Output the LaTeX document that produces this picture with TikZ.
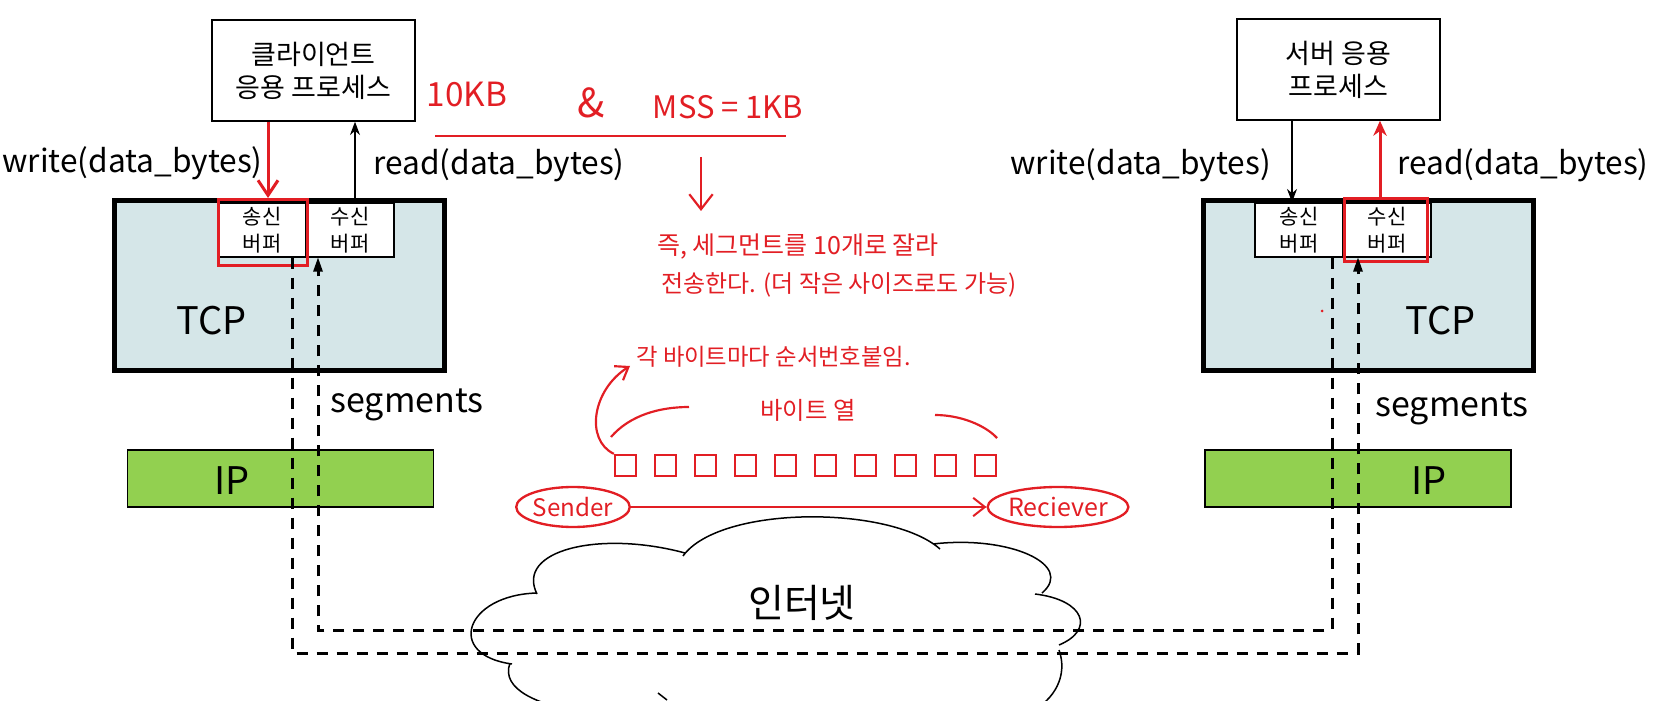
\documentclass[tikz,border=0pt]{standalone}
\usepackage{fontspec}
\setmainfont{Noto Sans CJK KR}
\usetikzlibrary{arrows.meta,shapes.geometric}
\definecolor{hred}{RGB}{226,30,36}
\definecolor{tcpfill}{RGB}{213,230,232}
\definecolor{ipfill}{RGB}{146,208,80}
\newcommand{\fsz}[2]{\fontsize{#1pt}{#2pt}\selectfont}
\begin{document}
\begin{tikzpicture}[x=0.6pt,y=-0.6pt,
  appbox/.style={draw, line width=0.9pt, align=center, inner sep=0pt,
    minimum width=121.8pt, minimum height=60.6pt, font=\fsz{16.2}{19.8}},
  tcpbox/.style={draw, line width=3pt, fill=tcpfill, minimum width=198pt, minimum height=102pt},
  ipbox/.style={draw, line width=0.9pt, fill=ipfill, minimum width=183.6pt, minimum height=34.2pt},
  buf/.style={draw, fill=white, line width=0.9pt, minimum width=52.8pt, minimum height=32.4pt,
    align=center, inner sep=0pt, font=\fsz{12.6}{16.2}},
  redbox/.style={draw=hred, line width=1.8pt},
  lbl/.style={font=\fsz{19}{22}, inner sep=0pt},
  seglbl/.style={font=\fsz{20.4}{24}, inner sep=0pt},
  big/.style={font=\fsz{22.8}{24}, inner sep=0pt},
  hand/.style={text=hred, inner sep=0pt},
  dashline/.style={line width=1.8pt, dash pattern=on 7pt off 5pt},
  blkarrow/.style={line width=0.8pt, -{Stealth[length=8pt,width=6pt]}},
  redarrow/.style={draw=hred, line width=1.8pt},
  sq/.style={draw=hred, line width=1.4pt, minimum size=12.6pt, inner sep=0pt},
  ell/.style={draw=hred, line width=1.4pt, ellipse, inner sep=0pt, text=hred}
]
\useasboundingbox (0,0) rectangle (1656,701);
\clip (0,0) rectangle (1656,701);

% ---------- cloud ----------
\draw[line width=0.9pt]
  (537,593) .. controls (465,595) and (445,655) .. (512,664)
  (537,594) .. controls (515,550) and (600,530) .. (685,553)
  (683,556) .. controls (720,505) and (890,505) .. (940,549)
  (933,544) .. controls (1010,535) and (1075,565) .. (1042,593)
  (1035,594) .. controls (1085,600) and (1095,630) .. (1059,645)
  (1059,650) .. controls (1068,675) and (1055,700) .. (1030,712)
  (510,663) .. controls (500,690) and (540,705) .. (580,712);
\draw[line width=0.9pt] (658,693) -- (667,700);
\node[font=\fsz{23.4}{24}, inner sep=0pt] (inet) at (802,603) {인터넷};

% ---------- app boxes ----------
\node[appbox] (client) at (313.5,70.5) {클라이언트\\응용 프로세스};
\node[appbox] (server) at (1338.5,69.5) {서버 응용\\프로세스};

% ---------- TCP boxes ----------
\node[tcpbox] (tcpL) at (279,286) {};
\node[tcpbox] (tcpR) at (1368,286) {};
\node[big] (tcpLt) at (212,321) {TCP};
\node[big] (tcpRt) at (1441,321) {TCP};

% buffers
\node[buf] (sbufL) at (262,230) {송신\\버퍼};
\node[buf] (rbufL) at (350,230) {수신\\버퍼};
\node[buf] (sbufR) at (1299,230) {송신\\버퍼};
\node[buf] (rbufR) at (1387,230) {수신\\버퍼};

% red highlight boxes
\node[redbox, minimum width=53.4pt, minimum height=39.6pt] (hlL) at (263,232.5) {};
\node[redbox, minimum width=49.8pt, minimum height=37.8pt] (hlR) at (1386,230.5) {};

% ---------- IP boxes ----------
\node[ipbox] (ipL) at (280.5,478.5) {};
\node[ipbox] (ipR) at (1358,478.5) {};
\node[big] (ipLt) at (232,481) {IP};
\node[big] (ipRt) at (1429,481) {IP};

% ---------- labels ----------
\node[lbl, anchor=west] (wL) at (2,163) {write(data\_bytes)};
\node[lbl, anchor=west] (rL) at (373,165) {read(data\_bytes)};
\node[lbl, anchor=east] (wR) at (1271,165) {write(data\_bytes)};
\node[lbl, anchor=west] (rR) at (1397,165) {read(data\_bytes)};
\node[seglbl] (segL) at (407,405) {segments};
\node[seglbl] (segR) at (1452,409) {segments};

% ---------- app <-> buffer arrows ----------
\coordinate (wxL) at (268,0);
\coordinate (rxL) at (355,0);
\coordinate (wxR) at (1292,0);
\coordinate (rxR) at (1380,0);
\draw[redarrow, -{Straight Barb[length=9pt,width=12pt]}] (client.south -| wxL) -- (hlL.north -| wxL);
\draw[blkarrow] (rbufL.north -| rxL) -- (client.south -| rxL);
\draw[blkarrow] (server.south -| wxR) -- (sbufR.north -| wxR);
\draw[redarrow, -{Stealth[length=9pt,width=8pt]}] (hlR.north -| rxR) -- (server.south -| rxR);

% ---------- dashed segment paths ----------
\coordinate (aL) at (292,653);
\coordinate (aR) at (1358,653);
\coordinate (bR) at (1332,630);
\coordinate (bL) at (318,630);
\draw[dashline] (sbufL.south -| aL) -- (aL) -- (aR) -- ([yshift=-3pt]rbufR.south -| aR);
\draw[dashline] (sbufR.south -| bR) -- (bR) -- (bL) -- ([yshift=-3pt]rbufL.south -| bL);
\fill (rbufR.south -| aR) -- ++(-5,14) -- ++(10,0) -- cycle;
\fill (rbufL.south -| bL) -- ++(-5,14) -- ++(10,0) -- cycle;

% ---------- red handwritten notes ----------
\node[hand, font=\fsz{20}{22}] (kb10) at (467,95) {10KB};
\node[hand, font=\fsz{24}{26}] (amp) at (591,103) {\&};
\node[hand, font=\fsz{18.6}{22}] (mss) at (728,107) {MSS = 1KB};
\coordinate (ruleL) at (435,136);
\coordinate (ruleR) at (786,136);
\draw[draw=hred, line width=1.5pt] (ruleL) -- (ruleR);
\coordinate (dnA) at (701,157);
\coordinate (dnB) at (701,211);
\draw[redarrow, line width=1.3pt, -{Straight Barb[length=9pt,width=14pt]}] (dnA) -- (dnB);
\node[hand, font=\fsz{15}{18}, anchor=west] (n1) at (657,247) {즉, 세그먼트를 10개로 잘라};
\node[hand, font=\fsz{14.4}{18}, anchor=west] (n2) at (661,285) {전송한다. (더 작은 사이즈로도 가능)};

\node[hand, font=\fsz{14}{16}, anchor=west] (n3) at (636,357) {각 바이트마다 순서번호붙임.};
\node[hand, font=\fsz{14.6}{16}] (n4) at (808,410) {바이트 열};

\foreach \i in {0,...,9} {
  \node[sq] (sq\i) at (625.5+40*\i,465.5) {};
}
\coordinate (annEnd) at (630,366);
\draw[redarrow, line width=1.3pt, -{Straight Barb[length=7pt,width=10pt]}]
  (sq0.north west) .. controls (585,440) and (592,390) .. (annEnd);
\draw[draw=hred, line width=1.3pt] (611,437) .. controls (630,415) and (660,407) .. (689,407);
\draw[draw=hred, line width=1.3pt] (935,415) .. controls (960,415) and (985,425) .. (997,438);

\node[ell, minimum width=56.4pt, minimum height=24pt, font=\fsz{14.5}{15}] (sender) at (573,507) {Sender};
\node[ell, minimum width=74.4pt, minimum height=24pt, font=\fsz{15}{15}] (recv) at (1058,507) {Reciever};
\draw[redarrow, line width=1.2pt, -{Straight Barb[length=7pt,width=11pt]}] (sender) -- (recv);

\fill[hred] (1322,311) circle (1.5);
\end{tikzpicture}
\end{document}
